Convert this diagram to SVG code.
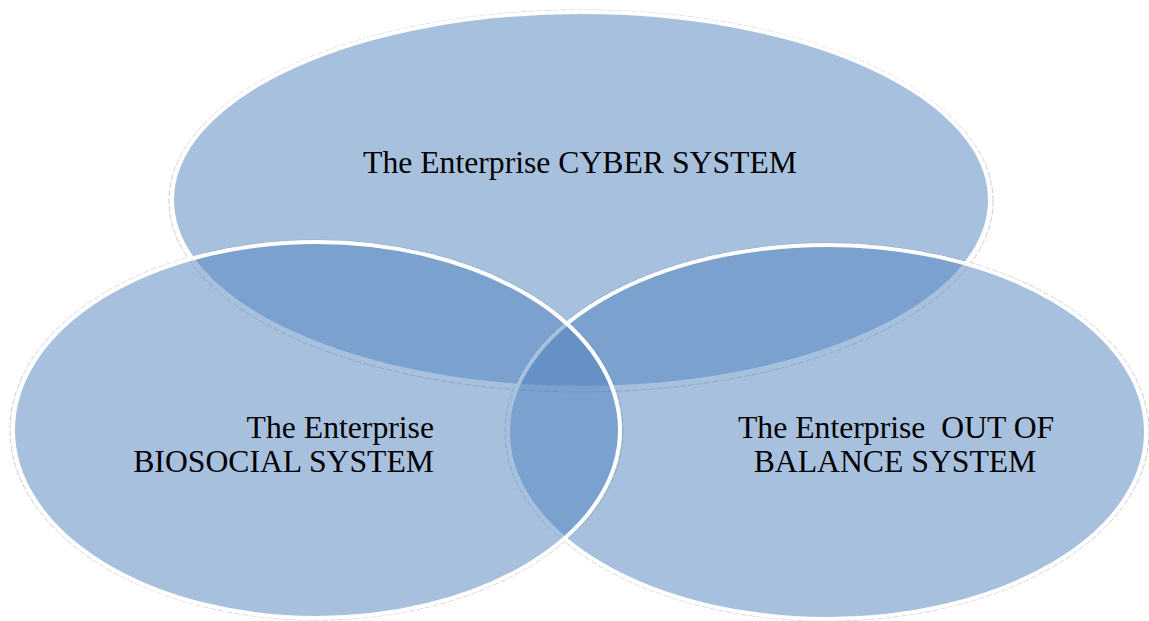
<svg xmlns="http://www.w3.org/2000/svg" width="1149" height="621" viewBox="0 0 1149 621">
  <style>
    .shadow { fill: none; stroke: #b8b8b8; stroke-width: 1; stroke-dasharray: 6 2; opacity: 0.7; }
    .set { fill: #4f81bd; fill-opacity: 0.5; stroke: #ffffff; stroke-width: 4; }
    .lbl { font-family: "Liberation Serif", "Times New Roman", serif; font-size: 31.7px; fill: #000000; white-space: pre; }
  </style>
  <rect width="1149" height="621" fill="#ffffff"/>
  <g id="shadows">
    <ellipse class="shadow" cx="581" cy="201" rx="412" ry="191"/>
    <ellipse class="shadow" cx="827" cy="432" rx="322" ry="189"/>
    <ellipse class="shadow" cx="316.5" cy="430" rx="306.5" ry="190"/>
  </g>
  <g id="cyber">
    <ellipse class="set" cx="581" cy="200" rx="409" ry="188"/>
  </g>
  <g id="outofbalance">
    <ellipse class="set" cx="827" cy="432" rx="319" ry="187"/>
  </g>
  <g id="biosocial">
    <ellipse class="set" cx="316.5" cy="430" rx="303.5" ry="188"/>
  </g>
  <g id="connectors"></g>
  <g id="labels">
    <text class="lbl" x="580" y="173" text-anchor="middle">The Enterprise CYBER SYSTEM</text>
    <text class="lbl" x="434" y="438" text-anchor="end">The Enterprise</text>
    <text class="lbl" x="434" y="472" text-anchor="end">BIOSOCIAL SYSTEM</text>
    <text class="lbl" x="738" y="438">The Enterprise  OUT OF</text>
    <text class="lbl" x="895" y="472" text-anchor="middle">BALANCE SYSTEM</text>
  </g>
</svg>
